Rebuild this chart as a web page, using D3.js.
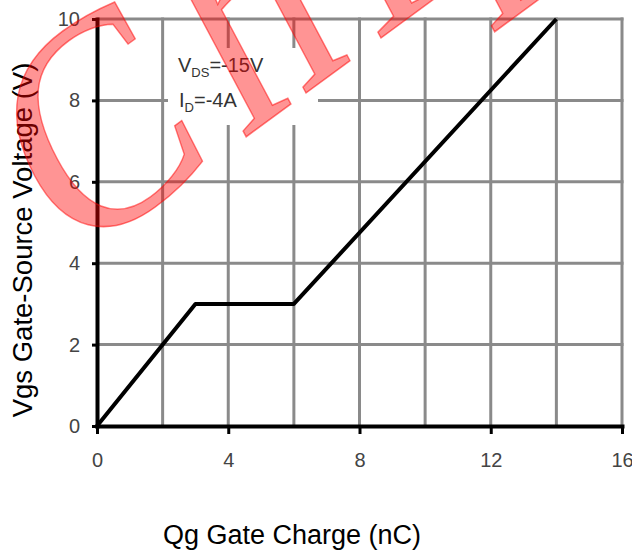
<!DOCTYPE html>
<html>
<head>
<meta charset="utf-8">
<script src="https://cdn.jsdelivr.net/npm/d3@7"></script>
<style>
  body { margin: 0; background: #fff; }
  .sans { font-family: "Liberation Sans", Arial, sans-serif; }
</style>
</head>
<body>
<div id="chart-area"></div>
<script>
// gate charge curve
const qg = [0, 3, 6, 14]
const vgs = [0, 3, 3, 10]

const xTicks = [0, 4, 8, 12, 16]
const yTicks = [0, 2, 4, 6, 8, 10]
const xGrid = [2, 4, 6, 8, 10, 12, 14, 16]
const yGrid = [2, 4, 6, 8, 10]

const MARGIN = { LEFT: 97, RIGHT: 10, TOP: 19, BOTTOM: 125 }
const WIDTH = 632 - MARGIN.LEFT - MARGIN.RIGHT
const HEIGHT = 551 - MARGIN.TOP - MARGIN.BOTTOM

const svg = d3.select("#chart-area").append("svg")
  .attr("width", 632)
  .attr("height", 551)

const g = svg.append("g")
  .attr("class", "sans")
  .attr("transform", `translate(${MARGIN.LEFT}, ${MARGIN.TOP})`)

const x = d3.scaleLinear()
  .domain([0, 16])
  .range([0, WIDTH])

const y = d3.scaleLinear()
  .domain([0, 10])
  .range([HEIGHT, 0])

// grid
g.selectAll(".vgrid").data(xGrid).enter().append("line")
  .attr("class", "vgrid")
  .attr("x1", d => x(d)).attr("x2", d => x(d))
  .attr("y1", y(0)).attr("y2", y(10) - 1.5)
  .attr("stroke", "#8a8a8a")
  .attr("stroke-width", 3)

g.selectAll(".hgrid").data(yGrid).enter().append("line")
  .attr("class", "hgrid")
  .attr("x1", x(0)).attr("x2", x(16) + 1.5)
  .attr("y1", d => y(d)).attr("y2", d => y(d))
  .attr("stroke", "#8a8a8a")
  .attr("stroke-width", 3)

// white box behind the test conditions
g.append("rect")
  .attr("x", 168 - MARGIN.LEFT)
  .attr("y", 48 - MARGIN.TOP)
  .attr("width", 150)
  .attr("height", 77)
  .attr("fill", "#fff")

// curve
const line = d3.line()
  .x(d => x(d[0]))
  .y(d => y(d[1]))

g.append("path")
  .datum(qg.map((q, i) => [q, vgs[i]]))
  .attr("fill", "none")
  .attr("stroke", "#000")
  .attr("stroke-width", 4)
  .attr("stroke-linejoin", "round")
  .attr("d", line)

// axes
const xAxisCall = d3.axisBottom(x)
  .tickValues(xTicks)
  .tickSize(8)
  .tickSizeOuter(0)
  .tickPadding(19)

const xAxisGroup = g.append("g")
  .attr("class", "x axis")
  .attr("transform", `translate(0, ${HEIGHT})`)
  .call(xAxisCall)

const yAxisCall = d3.axisLeft(y)
  .tickValues(yTicks)
  .tickSize(5)
  .tickSizeOuter(0)
  .tickPadding(12)

const yAxisGroup = g.append("g")
  .attr("class", "y axis")
  .call(yAxisCall)

svg.selectAll(".axis .domain")
  .attr("stroke", "#000")
  .attr("stroke-width", 4)
  .attr("stroke-linecap", "square")
svg.selectAll(".axis .tick line")
  .attr("stroke", "#000")
  .attr("stroke-width", 3)
svg.selectAll(".axis text")
  .attr("font-size", "20px")
  .attr("fill", "#444")
  .attr("font-family", null)

// test conditions
const cond = g.append("text")
  .attr("x", 178 - MARGIN.LEFT)
  .attr("y", 72 - MARGIN.TOP)
  .attr("font-size", "20px")
  .attr("fill", "#333")
cond.append("tspan").text("V")
cond.append("tspan").attr("font-size", "13px").attr("dy", 5).text("DS")
cond.append("tspan").attr("dy", -5).text("=-15V")

const cond2 = g.append("text")
  .attr("x", 179 - MARGIN.LEFT)
  .attr("y", 107 - MARGIN.TOP)
  .attr("font-size", "20px")
  .attr("fill", "#333")
cond2.append("tspan").text("I")
cond2.append("tspan").attr("font-size", "13px").attr("dy", 5).text("D")
cond2.append("tspan").attr("dy", -5).text("=-4A")

// X label
svg.append("text")
  .attr("class", "x axis-label sans")
  .attr("x", 292)
  .attr("y", 544)
  .attr("font-size", "27px")
  .attr("text-anchor", "middle")
  .attr("fill", "#000")
  .text("Qg Gate Charge (nC)")

// Y label
svg.append("text")
  .attr("class", "y axis-label sans")
  .attr("x", -240)
  .attr("y", 32)
  .attr("font-size", "27.5px")
  .attr("text-anchor", "middle")
  .attr("fill", "#000")
  .attr("transform", "rotate(-90)")
  .text("Vgs Gate-Source Voltage (V)")

// watermark
svg.append("text")
  .attr("transform", "translate(70, 266) scale(0.92, 1.08) rotate(-32)")
  .style("font-family", "'Liberation Serif', 'Times New Roman', serif")
  .style("font-size", "285px")
  .style("letter-spacing", "30px")
  .attr("fill", "#ff0000")
  .attr("fill-opacity", 0.42)
  .attr("stroke", "#ff0000")
  .attr("stroke-opacity", 0.5)
  .attr("stroke-width", 1.5)
  .text("Chip")
</script>
</body>
</html>
